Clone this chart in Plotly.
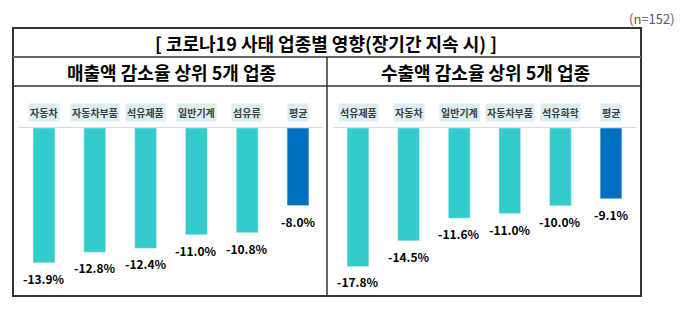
import plotly.graph_objects as go

W, H = 680, 326

title_text = "[ 코로나19 사태 업종별 영향(장기간 지속 시) ]"
left_title = "매출액 감소율 상위 5개 업종"
right_title = "수출액 감소율 상위 5개 업종"
note_text = "(n=152)"

left_categories = ["자동차", "자동차부품", "석유제품", "일반기계", "섬유류", "평균"]
left_values = [-13.9, -12.8, -12.4, -11.0, -10.8, -8.0]

right_categories = ["석유제품", "자동차", "일반기계", "자동차부품", "석유화학", "평균"]
right_values = [-17.8, -14.5, -11.6, -11.0, -10.0, -9.1]

TEAL = "#33CCCC"
BLUE = "#0070C0"
FONT = "Noto Sans CJK KR"


def px(x):
    return x / W


def py(y):
    return 1 - y / H


def colors(cats):
    return [BLUE if c == "평균" else TEAL for c in cats]


fig = go.Figure()
fig.add_trace(go.Bar(x=left_categories, y=left_values, marker_color=colors(left_categories),
                     width=0.43, xaxis="x", yaxis="y", hoverinfo="skip"))
fig.add_trace(go.Bar(x=right_categories, y=right_values, marker_color=colors(right_categories),
                     width=0.43, xaxis="x2", yaxis="y2", hoverinfo="skip"))

annotations = []
for xa, ya, cats, vals in [("x", "y", left_categories, left_values),
                           ("x2", "y2", right_categories, right_values)]:
    for c, v in zip(cats, vals):
        annotations.append(dict(x=c, y=v, xref=xa, yref=ya, text=f"{v:.1f}%",
                                showarrow=False, yanchor="top", yshift=-5,
                                font=dict(family=FONT, size=12, color="#000000", weight="bold")))
        annotations.append(dict(x=c, y=py(112.5), xref=xa, yref="paper", text=c,
                                showarrow=False, yanchor="middle", bgcolor="#DAEEF3",
                                borderpad=1,
                                font=dict(family=FONT, size=10, color="#404040", weight="bold")))

annotations += [
    dict(x=px(326), y=py(43), xref="paper", yref="paper", text=title_text, showarrow=False,
         xanchor="center", yanchor="middle",
         font=dict(family=FONT, size=18, color="#000000", weight="bold")),
    dict(x=px(171), y=py(72), xref="paper", yref="paper", text=left_title, showarrow=False,
         xanchor="center", yanchor="middle",
         font=dict(family=FONT, size=18, color="#000000", weight="bold")),
    dict(x=px(485), y=py(72), xref="paper", yref="paper", text=right_title, showarrow=False,
         xanchor="center", yanchor="middle",
         font=dict(family=FONT, size=18, color="#000000", weight="bold")),
    dict(x=px(677), y=py(18), xref="paper", yref="paper", text=note_text, showarrow=False,
         xanchor="right", yanchor="middle",
         font=dict(family=FONT, size=13, color="#595959")),
]

line_dark = dict(color="#333333", width=1.5)
shapes = [
    dict(type="rect", xref="paper", yref="paper", x0=px(13), x1=px(641), y0=py(296), y1=py(28),
         line=dict(color="#333333", width=2)),
    dict(type="line", xref="paper", yref="paper", x0=px(13), x1=px(641), y0=py(57), y1=py(57),
         line=dict(color="#666666", width=2)),
    dict(type="line", xref="paper", yref="paper", x0=px(13), x1=px(641), y0=py(86), y1=py(86),
         line=line_dark),
    dict(type="line", xref="paper", yref="paper", x0=px(327), x1=px(327), y0=py(296), y1=py(57),
         line=line_dark),
]

ydom = [py(296), py(128)]
axis_common = dict(showgrid=False, zeroline=False, showticklabels=False, ticks="",
                   showline=True, linecolor="#D9D9D9", linewidth=1, side="top",
                   fixedrange=True)
fig.update_layout(
    width=W, height=H, margin=dict(l=0, r=0, t=0, b=0),
    paper_bgcolor="white", plot_bgcolor="rgba(0,0,0,0)",
    showlegend=False, bargap=0.57,
    xaxis=dict(domain=[px(18.6), px(323.4)], anchor="y", **axis_common),
    xaxis2=dict(domain=[px(332.7), px(636.3)], anchor="y2", **axis_common),
    yaxis=dict(domain=ydom, range=[-168 / 9.7, 0], visible=False, fixedrange=True),
    yaxis2=dict(domain=ydom, range=[-168 / 7.78, 0], visible=False, fixedrange=True, anchor="x2"),
    annotations=annotations, shapes=shapes,
)

fig.write_html("out.html", config={"displayModeBar": False})
